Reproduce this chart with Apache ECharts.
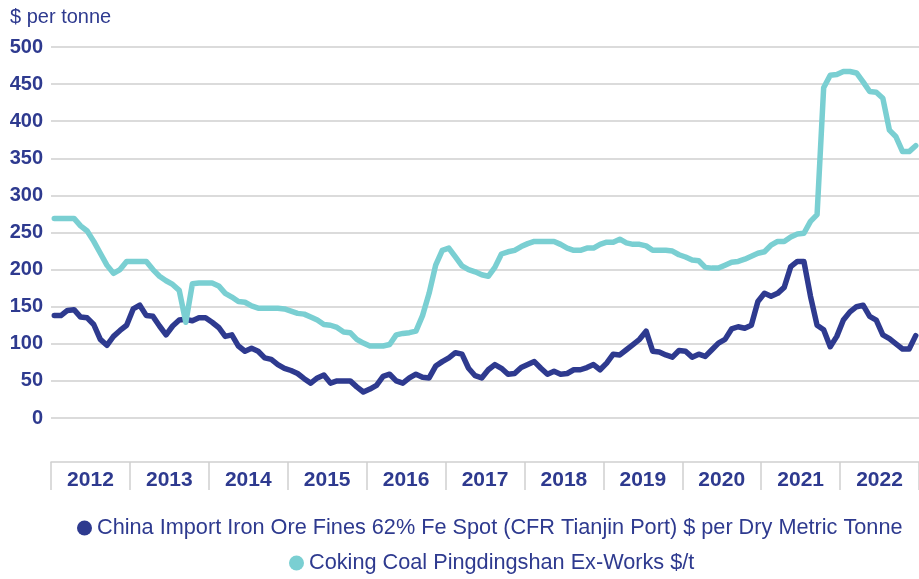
<!DOCTYPE html>
<html>
<head>
<meta charset="utf-8">
<script src="https://cdn.jsdelivr.net/npm/echarts@6/dist/echarts.min.js"></script>
<style>html,body{margin:0;padding:0;background:#fff;}#c{width:919px;height:579px;}</style>
</head>
<body>
<div id="c"></div>
<script>
const years = ['2012','2013','2014','2015','2016','2017','2018','2019','2020','2021','2022'];
const yTicks = [0,50,100,150,200,250,300,350,400,450,500];
const ironOre = [
  138,138,145,146,136,135,126,106,98,110,118,125,
  147,152,138,137,124,112,124,132,133,131,135,135,
  129,122,110,112,97,90,94,90,81,79,72,67,
  64,60,53,47,54,58,47,50,50,50,42,35,
  39,44,56,59,50,47,54,59,55,54,70,76,
  81,88,86,67,57,54,65,72,67,59,60,68,
  72,76,67,59,63,59,60,65,65,68,72,65,
  74,86,85,92,99,106,117,90,89,85,82,91,
  90,82,86,83,92,101,106,120,123,121,125,157,
  168,164,168,176,204,211,211,164,125,119,96,110,
  132,143,150,152,137,132,112,107,100,93,93,111
];
const cokingCoal = [
  269,269,269,269,259,252,238,222,206,195,200,211,
  211,211,211,200,191,185,180,172,129,181,182,182,
  182,178,168,163,157,156,151,148,148,148,148,147,
  144,141,140,136,132,126,125,122,116,115,106,101,
  97,97,97,99,112,114,115,117,138,168,206,226,
  229,217,205,200,197,193,191,203,221,224,226,231,
  235,238,238,238,238,234,229,226,226,229,229,234,
  237,237,241,236,234,234,232,226,226,226,225,220,
  217,213,212,203,202,202,206,210,211,214,218,222,
  224,233,238,238,244,248,249,265,274,445,462,463,
  467,467,465,453,440,439,431,388,379,359,359,367
];
const seriesNames = [
  'China Import Iron Ore Fines 62% Fe Spot (CFR Tianjin Port) $ per Dry Metric Tonne',
  'Coking Coal Pingdingshan Ex-Works $/t'
];
const months = [];
years.forEach(y => { for (let m = 1; m <= 12; m++) months.push(y + '-' + (m < 10 ? '0' + m : m)); });

const NAVY = '#2E3A8F';
const TEAL = '#7ACFD2';
const GRID = '#CFCFCF';
const FONT = 'Liberation Sans, Arial, sans-serif';

const chart = echarts.init(document.getElementById('c'), null, {renderer: 'canvas'});
chart.setOption({
  animation: false,
  backgroundColor: '#fff',
  textStyle: {fontFamily: FONT},
  title: {
    text: '$ per tonne', left: 10, top: 7, padding: 0,
    textStyle: {color: NAVY, fontSize: 20, fontWeight: 'normal', fontFamily: FONT}
  },
  legend: [
    {
      data: [seriesNames[0]], left: 77, top: 517, padding: 0, icon: 'circle', itemWidth: 15, itemHeight: 15, itemGap: 10,
      textStyle: {color: NAVY, fontSize: 21.7, fontFamily: FONT}
    },
    {
      data: [seriesNames[1]], left: 289, top: 552, padding: 0, icon: 'circle', itemWidth: 15, itemHeight: 15, itemGap: 10,
      textStyle: {color: NAVY, fontSize: 21.7, fontFamily: FONT}
    }
  ],
  grid: {left: 51, right: 0, top: 47, bottom: 161, containLabel: false},
  xAxis: [
    {
      type: 'category', data: months, boundaryGap: true, show: false, gridIndex: 0
    },
    {
      type: 'category', data: years, boundaryGap: true, position: 'bottom', offset: 44, gridIndex: 0,
      axisLine: {show: true, lineStyle: {color: GRID, width: 1.5}},
      axisTick: {show: true, length: 28, inside: false, lineStyle: {color: GRID, width: 1.5}},
      axisLabel: {color: NAVY, fontSize: 21, fontWeight: 'bold', margin: 8, fontFamily: FONT},
      splitLine: {show: false}
    }
  ],
  yAxis: {
    type: 'value', min: 0, max: 500, interval: 50,
    axisLine: {show: false}, axisTick: {show: false},
    axisLabel: {color: NAVY, fontSize: 20, fontWeight: 'bold', margin: 8, fontFamily: FONT},
    splitLine: {show: true, lineStyle: {color: GRID, width: 1.5}}
  },
  series: [
    {
      name: seriesNames[0], type: 'line', xAxisIndex: 0, data: ironOre, showSymbol: false, symbol: 'none',
      itemStyle: {color: NAVY}, lineStyle: {color: NAVY, width: 5.5, join: 'round', cap: 'round'}
    },
    {
      name: seriesNames[1], type: 'line', xAxisIndex: 0, data: cokingCoal, showSymbol: false, symbol: 'none',
      itemStyle: {color: TEAL}, lineStyle: {color: TEAL, width: 5.5, join: 'round', cap: 'round'}
    }
  ]
});
</script>
</body>
</html>
